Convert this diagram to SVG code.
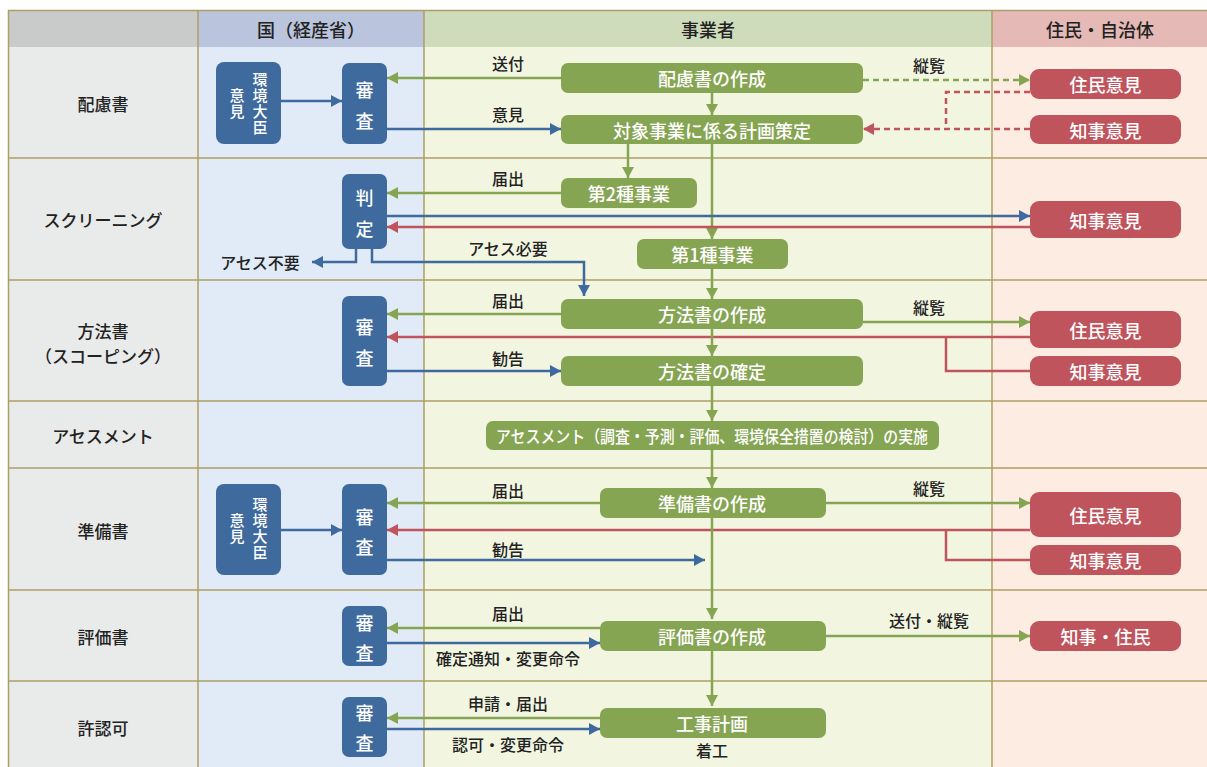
<svg xmlns="http://www.w3.org/2000/svg" width="1207" height="767" viewBox="0 0 1207 767">
<style>
text{font-family:"Noto Sans CJK JP","Noto Sans CJK SC",sans-serif;font-weight:500;}
.hd{font-size:18px;fill:#222;text-anchor:middle;dominant-baseline:central;}
.rh{font-size:17px;fill:#222;text-anchor:middle;dominant-baseline:central;}
.lb{font-size:16px;fill:#222;text-anchor:middle;dominant-baseline:central;}
.bt{font-size:18px;fill:#fff;text-anchor:middle;dominant-baseline:central;}
.vt{font-size:18px;fill:#fff;text-anchor:middle;dominant-baseline:central;}
.dt{font-size:15px;fill:#fff;text-anchor:start;writing-mode:vertical-rl;letter-spacing:1px;}
.b{fill:#3e6a9e;}
.g{fill:#86a553;}
.r{fill:#bf545c;}
.grid{stroke:#ae9f66;stroke-width:1.5;fill:none;}
.cb{stroke:#3e6a9e;stroke-width:2.5;fill:none;}
.cg{stroke:#86a553;stroke-width:2.5;fill:none;}
.cr{stroke:#bf545c;stroke-width:2.5;fill:none;}
.dash{stroke-dasharray:6 4;}
</style>
<defs>
<marker id="ab" markerUnits="userSpaceOnUse" markerWidth="11" markerHeight="12" refX="11" refY="6" orient="auto"><path d="M0,0 L11,6 L0,12 z" fill="#3e6a9e"/></marker>
<marker id="ag" markerUnits="userSpaceOnUse" markerWidth="11" markerHeight="12" refX="11" refY="6" orient="auto"><path d="M0,0 L11,6 L0,12 z" fill="#86a553"/></marker>
<marker id="ar" markerUnits="userSpaceOnUse" markerWidth="11" markerHeight="12" refX="11" refY="6" orient="auto"><path d="M0,0 L11,6 L0,12 z" fill="#bf545c"/></marker>
</defs>
<rect x="0" y="0" width="1207" height="767" fill="#ffffff"/>
<g id="background">
<rect x="8" y="10" width="190" height="37" fill="#c9caca"/>
<rect x="198" y="10" width="226" height="37" fill="#bac4dc"/>
<rect x="424" y="10" width="568" height="37" fill="#cfdcbc"/>
<rect x="992" y="10" width="215" height="37" fill="#e4b9b6"/>
<rect x="8" y="47" width="190" height="720" fill="#e9eaea"/>
<rect x="198" y="47" width="226" height="720" fill="#e0ebf7"/>
<rect x="424" y="47" width="568" height="720" fill="#f2f6e1"/>
<rect x="992" y="47" width="215" height="720" fill="#fdece1"/>
<path class="grid" d="M8,10.5 H1207 M8,158 H1207 M8,280 H1207 M8,401 H1207 M8,468 H1207 M8,590 H1207 M8,681 H1207 M8.5,10 V767 M198,10 V767 M424,10 V767 M992,10 V767"/>
<text class="hd" x="311" y="29">国（経産省）</text>
<text class="hd" x="708" y="29">事業者</text>
<text class="hd" x="1100" y="29">住民・自治体</text>
<text class="rh" x="103" y="103">配慮書</text>
<text class="rh" x="103" y="219">スクリーニング</text>
<text class="rh" x="103" y="330">方法書</text>
<text class="rh" x="103" y="355">（スコーピング）</text>
<text class="rh" x="103" y="435">アセスメント</text>
<text class="rh" x="103" y="530">準備書</text>
<text class="rh" x="103" y="636">評価書</text>
<text class="rh" x="103" y="727">許認可</text>
</g>
<g id="connectors">
<path class="cb" d="M281,101 H342" marker-end="url(#ab)"/>
<path class="cg" d="M561,78 H387" marker-end="url(#ag)"/>
<path class="cb" d="M387,129 H561" marker-end="url(#ab)"/>
<path class="cg" d="M712,93 V115" marker-end="url(#ag)"/>
<path class="cg dash" d="M863,80 H1030" marker-end="url(#ag)"/>
<path class="cr dash" d="M1030,92 H946 V129"/>
<path class="cr dash" d="M1030,129 H863" marker-end="url(#ar)"/>
<path class="cg" d="M628,144 V178" marker-end="url(#ag)"/>
<path class="cg" d="M561,193 H387" marker-end="url(#ag)"/>
<path class="cg" d="M712,144 V239" marker-end="url(#ag)"/>
<path class="cb" d="M387,216 H1030" marker-end="url(#ab)"/>
<path class="cr" d="M1030,227 H387" marker-end="url(#ar)"/>
<path class="cb" d="M356,249 V262 H312" marker-end="url(#ab)"/>
<path class="cb" d="M372,249 V262 H584 V296" marker-end="url(#ab)"/>
<path class="cg" d="M712,269 V299" marker-end="url(#ag)"/>
<path class="cg" d="M561,314 H387" marker-end="url(#ag)"/>
<path class="cr" d="M1030,337 H387" marker-end="url(#ar)"/>
<path class="cr" d="M1030,371 H946 V337"/>
<path class="cg" d="M863,322 H1030" marker-end="url(#ag)"/>
<path class="cb" d="M387,371 H561" marker-end="url(#ab)"/>
<path class="cg" d="M712,329 V356" marker-end="url(#ag)"/>
<path class="cg" d="M712,386 V421" marker-end="url(#ag)"/>
<path class="cg" d="M712,450 V488" marker-end="url(#ag)"/>
<path class="cb" d="M281,530 H342" marker-end="url(#ab)"/>
<path class="cg" d="M600,503 H387" marker-end="url(#ag)"/>
<path class="cr" d="M1030,530 H387" marker-end="url(#ar)"/>
<path class="cr" d="M1030,560 H946 V530"/>
<path class="cg" d="M826,503 H1030" marker-end="url(#ag)"/>
<path class="cb" d="M387,560 H705" marker-end="url(#ab)"/>
<path class="cg" d="M712,518 V619" marker-end="url(#ag)"/>
<path class="cg" d="M600,628 H387" marker-end="url(#ag)"/>
<path class="cb" d="M387,643 H600" marker-end="url(#ab)"/>
<path class="cg" d="M826,636 H1030" marker-end="url(#ag)"/>
<path class="cg" d="M712,651 V706" marker-end="url(#ag)"/>
<path class="cg" d="M600,718 H387" marker-end="url(#ag)"/>
<path class="cb" d="M387,729 H600" marker-end="url(#ab)"/>
<text class="lb" x="508" y="63">送付</text>
<text class="lb" x="508" y="114">意見</text>
<text class="lb" x="929" y="65">縦覧</text>
<text class="lb" x="508" y="178">届出</text>
<text class="lb" x="508" y="248">アセス必要</text>
<text class="lb" x="260" y="262">アセス不要</text>
<text class="lb" x="508" y="300">届出</text>
<text class="lb" x="929" y="307">縦覧</text>
<text class="lb" x="508" y="358">勧告</text>
<text class="lb" x="508" y="490">届出</text>
<text class="lb" x="929" y="488">縦覧</text>
<text class="lb" x="508" y="549">勧告</text>
<text class="lb" x="508" y="613">届出</text>
<text class="lb" x="508" y="658">確定通知・変更命令</text>
<text class="lb" x="929" y="620">送付・縦覧</text>
<text class="lb" x="508" y="703">申請・届出</text>
<text class="lb" x="508" y="744">認可・変更命令</text>
<text class="lb" x="712" y="750">着工</text>
</g>
<g id="daijin1"><rect class="b" x="216" y="62" width="65" height="82" rx="8"/>
<text class="dt" x="260" y="72">環境大臣</text>
<text class="dt" x="237" y="88">意見</text></g>
<g id="shinsa1"><rect class="b" x="342" y="63" width="45" height="81" rx="7"/>
<text class="vt"><tspan x="364.5" y="89">審</tspan><tspan x="364.5" y="120">査</tspan></text></g>
<g id="hantei"><rect class="b" x="342" y="174" width="45" height="75" rx="7"/>
<text class="vt"><tspan x="364.5" y="197">判</tspan><tspan x="364.5" y="228">定</tspan></text></g>
<g id="shinsa3"><rect class="b" x="342" y="296" width="45" height="90" rx="7"/>
<text class="vt"><tspan x="364.5" y="326">審</tspan><tspan x="364.5" y="357">査</tspan></text></g>
<g id="daijin5"><rect class="b" x="216" y="484" width="65" height="91" rx="8"/>
<text class="dt" x="260" y="497">環境大臣</text>
<text class="dt" x="237" y="513">意見</text></g>
<g id="shinsa5"><rect class="b" x="342" y="484" width="45" height="91" rx="7"/>
<text class="vt"><tspan x="364.5" y="516">審</tspan><tspan x="364.5" y="546">査</tspan></text></g>
<g id="shinsa6"><rect class="b" x="342" y="606" width="45" height="60" rx="7"/>
<text class="vt"><tspan x="364.5" y="622">審</tspan><tspan x="364.5" y="652">査</tspan></text></g>
<g id="shinsa7"><rect class="b" x="342" y="697" width="45" height="60" rx="7"/>
<text class="vt"><tspan x="364.5" y="712">審</tspan><tspan x="364.5" y="742">査</tspan></text></g>
<g id="hairyo"><rect class="g" x="561" y="63" width="302" height="30" rx="7"/><text class="bt" x="712" y="78">配慮書の作成</text></g>
<g id="taisho"><rect class="g" x="561" y="115" width="302" height="29" rx="7"/><text class="bt" x="712" y="129.5">対象事業に係る計画策定</text></g>
<g id="dai2"><rect class="g" x="561" y="178" width="136" height="30" rx="7"/><text class="bt" x="629" y="193">第2種事業</text></g>
<g id="dai1"><rect class="g" x="637" y="239" width="151" height="30" rx="7"/><text class="bt" x="712.5" y="254">第1種事業</text></g>
<g id="hoho-sakusei"><rect class="g" x="561" y="299" width="302" height="30" rx="7"/><text class="bt" x="712" y="314">方法書の作成</text></g>
<g id="hoho-kakutei"><rect class="g" x="561" y="356" width="302" height="30" rx="7"/><text class="bt" x="712" y="371">方法書の確定</text></g>
<g id="assess"><rect class="g" x="486" y="421" width="453" height="29" rx="7"/><text class="bt" x="712" y="435.5" textLength="432" lengthAdjust="spacingAndGlyphs" style="font-size:17px">アセスメント（調査・予測・評価、環境保全措置の検討）の実施</text></g>
<g id="junbi"><rect class="g" x="600" y="488" width="226" height="30" rx="7"/><text class="bt" x="712" y="503">準備書の作成</text></g>
<g id="hyoka"><rect class="g" x="600" y="621" width="226" height="30" rx="7"/><text class="bt" x="712" y="636">評価書の作成</text></g>
<g id="koji"><rect class="g" x="600" y="708" width="226" height="30" rx="7"/><text class="bt" x="712" y="723">工事計画</text></g>
<g id="jumin1"><rect class="r" x="1030" y="69" width="151" height="30" rx="9"/><text class="bt" x="1105.5" y="84">住民意見</text></g>
<g id="chiji1"><rect class="r" x="1030" y="115" width="151" height="29" rx="9"/><text class="bt" x="1105.5" y="129.5">知事意見</text></g>
<g id="chiji2"><rect class="r" x="1030" y="201" width="151" height="37" rx="9"/><text class="bt" x="1105.5" y="219.5">知事意見</text></g>
<g id="jumin3"><rect class="r" x="1030" y="311" width="151" height="37" rx="9"/><text class="bt" x="1105.5" y="329.5">住民意見</text></g>
<g id="chiji3"><rect class="r" x="1030" y="356" width="151" height="30" rx="9"/><text class="bt" x="1105.5" y="371">知事意見</text></g>
<g id="jumin5"><rect class="r" x="1030" y="492" width="151" height="45" rx="9"/><text class="bt" x="1105.5" y="514.5">住民意見</text></g>
<g id="chiji5"><rect class="r" x="1030" y="545" width="151" height="30" rx="9"/><text class="bt" x="1105.5" y="560">知事意見</text></g>
<g id="chiji-jumin"><rect class="r" x="1030" y="621" width="151" height="30" rx="9"/><text class="bt" x="1105.5" y="636">知事・住民</text></g>
</svg>
